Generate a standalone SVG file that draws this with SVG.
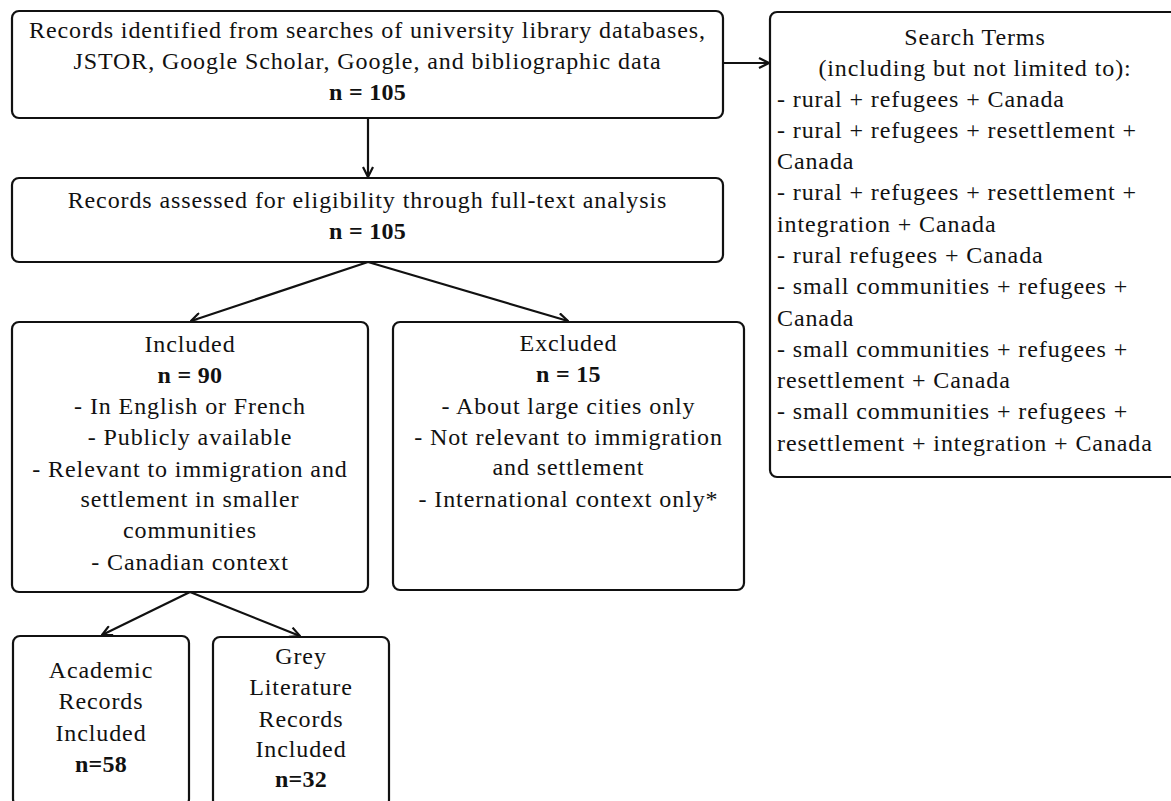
<svg xmlns="http://www.w3.org/2000/svg" width="1171" height="801" viewBox="0 0 1171 801">
<style>
.box{fill:#fff;stroke:#111;stroke-width:2.2}
text{font-family:"Liberation Serif","Times New Roman",serif;font-size:24px;fill:#111;letter-spacing:0.9px}
.c{text-anchor:middle}
.b{font-weight:bold;letter-spacing:0.3px}
.con{stroke:#111;stroke-width:2.2;fill:none}
</style>
<defs>
<marker id="ah" viewBox="0 0 12 12" refX="11" refY="6" markerWidth="12" markerHeight="12" markerUnits="userSpaceOnUse" orient="auto">
<path d="M1,1 L11,6 L1,11" fill="none" stroke="#111" stroke-width="2.2"/>
</marker>
</defs>
<rect width="1171" height="801" fill="#fff"/>
<g id="connectors">
<path class="con" d="M368,118 L368,177" marker-end="url(#ah)"/>
<path class="con" d="M723,63 L769,63" marker-end="url(#ah)"/>
<path class="con" d="M368,262 L191,321" marker-end="url(#ah)"/>
<path class="con" d="M368,262 L568,321" marker-end="url(#ah)"/>
<path class="con" d="M190,592 L102,635" marker-end="url(#ah)"/>
<path class="con" d="M190,592 L300,636" marker-end="url(#ah)"/>
</g>
<g id="records-identified">
<rect class="box" x="12" y="11" width="711" height="107" rx="7"/>
<text class="c" x="367.5" y="38">Records identified from searches of university library databases,</text>
<text class="c" x="367.5" y="69">JSTOR, Google Scholar, Google, and bibliographic data</text>
<text class="c b" x="367.5" y="100">n = 105</text>
</g>
<g id="records-assessed">
<rect class="box" x="12" y="178" width="711" height="84" rx="7"/>
<text class="c" x="367.5" y="208">Records assessed for eligibility through full-text analysis</text>
<text class="c b" x="367.5" y="239">n = 105</text>
</g>
<g id="search-terms">
<rect class="box" x="770" y="12" width="410" height="465" rx="7"/>
<text class="c" x="975" y="45">Search Terms</text>
<text class="c" x="975" y="76">(including but not limited to):</text>
<text x="777" y="107">- rural + refugees + Canada</text>
<text x="777" y="138">- rural + refugees + resettlement +</text>
<text x="777" y="169">Canada</text>
<text x="777" y="200">- rural + refugees + resettlement +</text>
<text x="777" y="232">integration + Canada</text>
<text x="777" y="263">- rural refugees + Canada</text>
<text x="777" y="294">- small communities + refugees +</text>
<text x="777" y="326">Canada</text>
<text x="777" y="357">- small communities + refugees +</text>
<text x="777" y="388">resettlement + Canada</text>
<text x="777" y="419">- small communities + refugees +</text>
<text x="777" y="451">resettlement + integration + Canada</text>
</g>
<g id="included">
<rect class="box" x="12" y="322" width="356" height="270" rx="7"/>
<text class="c" x="190" y="352">Included</text>
<text class="c b" x="190" y="383">n = 90</text>
<text class="c" x="190" y="414">- In English or French</text>
<text class="c" x="190" y="445">- Publicly available</text>
<text class="c" x="190" y="477">- Relevant to immigration and</text>
<text class="c" x="190" y="507">settlement in smaller</text>
<text class="c" x="190" y="538">communities</text>
<text class="c" x="190" y="570">- Canadian context</text>
</g>
<g id="excluded">
<rect class="box" x="393" y="322" width="351" height="268" rx="7"/>
<text class="c" x="568.5" y="351">Excluded</text>
<text class="c b" x="568.5" y="382">n = 15</text>
<text class="c" x="568.5" y="414">- About large cities only</text>
<text class="c" x="568.5" y="445">- Not relevant to immigration</text>
<text class="c" x="568.5" y="475">and settlement</text>
<text class="c" x="568.5" y="507">- International context only*</text>
</g>
<g id="academic">
<rect class="box" x="13" y="636" width="176" height="170" rx="7"/>
<text class="c" x="101" y="678">Academic</text>
<text class="c" x="101" y="709">Records</text>
<text class="c" x="101" y="741">Included</text>
<text class="c b" x="101" y="772">n=58</text>
</g>
<g id="grey-literature">
<rect class="box" x="213" y="637" width="176" height="170" rx="7"/>
<text class="c" x="301" y="664">Grey</text>
<text class="c" x="301" y="695">Literature</text>
<text class="c" x="301" y="727">Records</text>
<text class="c" x="301" y="757">Included</text>
<text class="c b" x="301" y="787">n=32</text>
</g>
</svg>
